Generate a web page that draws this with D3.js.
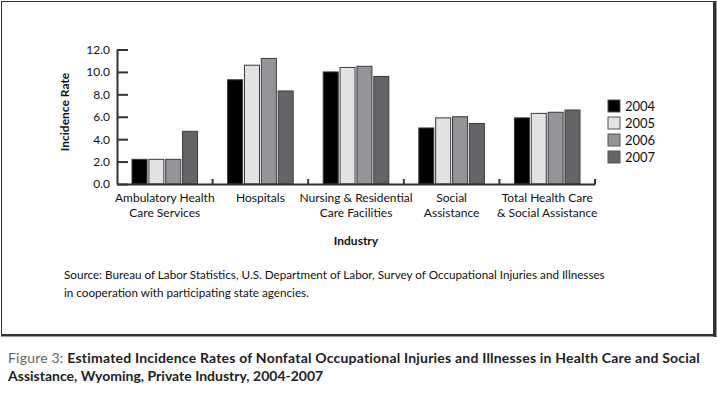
<!DOCTYPE html>
<html lang="en">
<head>
<meta charset="UTF-8">
<title>Incidence Rates, Wyoming Health Care</title>
<script src="https://d3js.org/d3.v7.min.js"></script>
<style>
  body { margin: 0; padding: 0; background: #fff; }
  svg { display: block; font-family: Lato, "Open Sans", sans-serif; }
  .axis path, .axis line { stroke: #333; stroke-width: 2px; }
  .axis text { font-size: 12px; fill: #111; font-family: Lato, sans-serif; }
</style>
</head>
<body>
<div id="chart"></div>
<script>
  // data
  var industries = ['Ambulatory Health Care Services', 'Hospitals', 'Nursing & Residential Care Facilities', 'Social Assistance', 'Total Health Care & Social Assistance'];
  var industryLines = [['Ambulatory Health', 'Care Services'], ['Hospitals'], ['Nursing & Residential', 'Care Facilities'], ['Social', 'Assistance'], ['Total Health Care', '& Social Assistance']];
  var years = ['2004', '2005', '2006', '2007'];
  var rate2004 = [2.2, 9.3, 10.0, 5.0, 5.9];
  var rate2005 = [2.2, 10.6, 10.4, 5.9, 6.3];
  var rate2006 = [2.2, 11.2, 10.5, 6.0, 6.4];
  var rate2007 = [4.7, 8.3, 9.6, 5.4, 6.6];
  var yTicks = [0, 2, 4, 6, 8, 10, 12];
  var yearColors = ['#000000', '#e1e2e4', '#939598', '#636466'];

  var series = [rate2004, rate2005, rate2006, rate2007];

  var width = 717, height = 398;
  var svg = d3.select('#chart').append('svg')
    .attr('width', width).attr('height', height);

  /** outer frame, with a heavier right and bottom edge */
  svg.append('rect')
    .attr('x', 1.5).attr('y', 1.5)
    .attr('width', 712).attr('height', 333)
    .attr('fill', 'none').attr('stroke', '#333').attr('stroke-width', 1);
  svg.append('line').attr('x1', 715).attr('x2', 715).attr('y1', 1).attr('y2', 337)
    .attr('stroke', '#333').attr('stroke-width', 3);
  svg.append('line').attr('x1', 1).attr('x2', 716).attr('y1', 335.5).attr('y2', 335.5)
    .attr('stroke', '#333').attr('stroke-width', 2);

  /** scales */
  var x = d3.scaleBand().domain(industries).range([117, 595]).paddingInner(0).paddingOuter(0);
  var groupPad = 15;
  var xYear = d3.scaleBand().domain(years)
    .range([groupPad, x.bandwidth() - groupPad]).paddingInner(0.11);
  var y = d3.scaleLinear().domain([0, 12]).range([184, 49.5]);

  /** bars */
  var groups = svg.append('g').selectAll('g')
    .data(industries)
    .enter().append('g')
    .attr('transform', function (d) { return 'translate(' + x(d) + ',0)'; });

  groups.selectAll('rect')
    .data(function (d, i) {
      return years.map(function (yr, j) { return { year: yr, value: series[j][i], k: j }; });
    })
    .enter().append('rect')
    .attr('x', function (d) { return xYear(d.year); })
    .attr('width', xYear.bandwidth())
    .attr('y', function (d) { return y(d.value); })
    .attr('height', function (d) { return y(0) - y(d.value); })
    .attr('fill', function (d) { return yearColors[d.k]; })
    .attr('stroke', '#3a3a3a')
    .attr('stroke-width', 1);

  /** y axis, ticks pointing inward */
  svg.append('g').attr('class', 'axis')
    .attr('transform', 'translate(117,0)')
    .call(d3.axisLeft(y).tickValues(yTicks).tickFormat(d3.format('.1f'))
      .tickSizeInner(-11).tickSizeOuter(0).tickPadding(7));

  /** x axis line and boundary ticks */
  var xAxis = svg.append('g').attr('class', 'axis')
    .attr('transform', 'translate(0,184)')
    .call(d3.axisBottom(x).tickSize(0).tickFormat(''));
  xAxis.selectAll('.tick').remove();
  xAxis.selectAll('.btick')
    .data(industries)
    .enter().append('line')
    .attr('x1', function (d) { return x(d) + x.bandwidth(); })
    .attr('x2', function (d) { return x(d) + x.bandwidth(); })
    .attr('y1', 0).attr('y2', -5)
    .attr('stroke', '#333').attr('stroke-width', 2);

  /** category labels */
  var catLabels = svg.append('g').selectAll('text')
    .data(industries)
    .enter().append('text')
    .attr('text-anchor', 'middle')
    .attr('font-size', 12)
    .attr('fill', '#111')
    .attr('x', function (d) { return x(d) + x.bandwidth() / 2; })
    .attr('y', 202);
  catLabels.selectAll('tspan')
    .data(function (d, i) { return industryLines[i]; })
    .enter().append('tspan')
    .attr('x', function () { return d3.select(this.parentNode).attr('x'); })
    .attr('dy', function (d, i) { return i === 0 ? 0 : 15; })
    .text(function (d) { return d; });

  /** axis titles */
  svg.append('text')
    .attr('transform', 'translate(69,112) rotate(-90)')
    .attr('text-anchor', 'middle')
    .attr('font-size', 12).attr('font-weight', 'bold').attr('fill', '#111')
    .text('Incidence Rate');
  svg.append('text')
    .attr('x', 356).attr('y', 245)
    .attr('text-anchor', 'middle')
    .attr('font-size', 12).attr('font-weight', 'bold').attr('fill', '#111')
    .text('Industry');

  /** legend */
  var legend = svg.append('g').attr('transform', 'translate(608,100)');
  var legendItem = legend.selectAll('g')
    .data(years)
    .enter().append('g')
    .attr('transform', function (_, i) { return 'translate(0,' + (i * 17) + ')'; });
  legendItem.append('rect')
    .attr('width', 12).attr('height', 12)
    .attr('fill', function (_, i) { return yearColors[i]; })
    .attr('stroke', '#555').attr('stroke-width', 1);
  legendItem.append('text')
    .attr('x', 17).attr('y', 11)
    .attr('font-size', 13).attr('fill', '#111')
    .text(function (d) { return d; });

  /** source note */
  var source = svg.append('text').attr('font-size', 11.7).attr('fill', '#111');
  source.append('tspan').attr('x', 64).attr('y', 279)
    .text('Source: Bureau of Labor Statistics, U.S. Department of Labor, Survey of Occupational Injuries and Illnesses');
  source.append('tspan').attr('x', 64).attr('y', 297)
    .text('in cooperation with participating state agencies.');

  /** figure caption */
  var caption = svg.append('text').attr('font-size', 14).attr('fill', '#222');
  var line1 = caption.append('tspan').attr('x', 8).attr('y', 363).attr('letter-spacing', 0.2);
  line1.append('tspan').attr('fill', '#666').text('Figure 3: ');
  line1.append('tspan').attr('font-weight', 'bold')
    .text('Estimated Incidence Rates of Nonfatal Occupational Injuries and Illnesses in Health Care and Social');
  caption.append('tspan').attr('x', 8).attr('y', 381).attr('font-weight', 'bold')
    .text('Assistance, Wyoming, Private Industry, 2004-2007');
</script>
</body>
</html>
